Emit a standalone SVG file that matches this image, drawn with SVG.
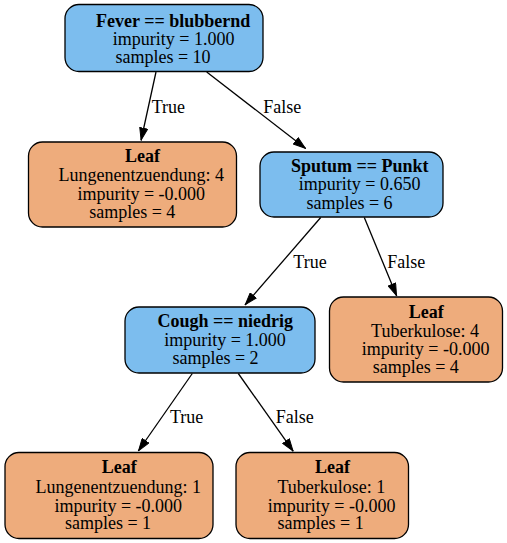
<svg xmlns="http://www.w3.org/2000/svg" width="507" height="543" viewBox="0 0 507 543">
<defs>
<style>
.n rect{stroke:#000;stroke-width:1.3}
.blue rect{fill:#7cbdee}
.orange rect{fill:#eeac7c}
text{font-family:"Liberation Serif","Times New Roman",serif;font-size:18px;fill:#000}
.n text{text-anchor:middle}
.b{font-weight:bold}
.e line{stroke:#000;stroke-width:1.3;marker-end:url(#arr)}
</style>
<marker id="arr" viewBox="0 0 13 9" refX="13" refY="4.5" markerWidth="13" markerHeight="9" orient="auto" markerUnits="userSpaceOnUse">
<path d="M0.5,0.5 L12.5,4.5 L0.5,8.5 z" fill="#000" stroke="#000" stroke-width="1"/>
</marker>
</defs>
<rect width="507" height="543" fill="#fff"/>
<g id="edges" class="e">
<line x1="156" y1="72" x2="141" y2="140.5"/>
<text x="151.7" y="113">True</text>
<line x1="206.7" y1="72" x2="305.7" y2="148.5"/>
<text x="263.3" y="113">False</text>
<line x1="320.7" y1="217.5" x2="245" y2="305"/>
<text x="293.3" y="268">True</text>
<line x1="364.3" y1="217.5" x2="396.7" y2="296"/>
<text x="387.3" y="268">False</text>
<line x1="192.3" y1="373.5" x2="138.3" y2="451"/>
<text x="170" y="423">True</text>
<line x1="238.3" y1="373.5" x2="293.3" y2="451.3"/>
<text x="275.7" y="423">False</text>
</g>
<g id="node0" class="n blue">
<rect x="65" y="4.5" width="198" height="67" rx="14"/>
<text class="b" x="173.2" y="27">Fever == blubbernd</text>
<text x="173.7" y="45">impurity = 1.000</text>
<text x="163" y="63">samples = 10</text>
</g>
<g id="node1" class="n orange">
<rect x="28.5" y="142" width="208" height="85" rx="14"/>
<text class="b" x="142.5" y="162">Leaf</text>
<text x="141.2" y="181">Lungenentzuendung: 4</text>
<text x="141.3" y="200">impurity = -0.000</text>
<text x="132.3" y="218">samples = 4</text>
</g>
<g id="node2" class="n blue">
<rect x="260" y="152" width="183" height="65" rx="14"/>
<text class="b" x="359.7" y="172">Sputum == Punkt</text>
<text x="359.7" y="190">impurity = 0.650</text>
<text x="349.5" y="208.5">samples = 6</text>
</g>
<g id="node3" class="n blue">
<rect x="125" y="307" width="190" height="66" rx="14"/>
<text class="b" x="225.3" y="327">Cough == niedrig</text>
<text x="225" y="345.5">impurity = 1.000</text>
<text x="215.5" y="364.3">samples = 2</text>
</g>
<g id="node4" class="n orange">
<rect x="329.5" y="297" width="173" height="85" rx="14"/>
<text class="b" x="426.3" y="318.3">Leaf</text>
<text x="425" y="336.7">Tuberkulose: 4</text>
<text x="425.7" y="355">impurity = -0.000</text>
<text x="415.8" y="373.3">samples = 4</text>
</g>
<g id="node5" class="n orange">
<rect x="5" y="452.5" width="208" height="86" rx="14"/>
<text class="b" x="119.2" y="473.3">Leaf</text>
<text x="118.3" y="493.3">Lungenentzuendung: 1</text>
<text x="118.3" y="511.7">impurity = -0.000</text>
<text x="108" y="529.3">samples = 1</text>
</g>
<g id="node6" class="n orange">
<rect x="236" y="452.5" width="172.5" height="86" rx="14"/>
<text class="b" x="332.5" y="473.3">Leaf</text>
<text x="331.3" y="493.3">Tuberkulose: 1</text>
<text x="331.7" y="511.7">impurity = -0.000</text>
<text x="320.7" y="529.3">samples = 1</text>
</g>
</svg>
